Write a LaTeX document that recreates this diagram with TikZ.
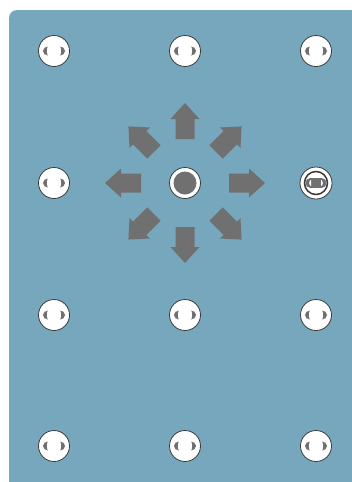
\documentclass[tikz,border=0pt]{standalone}
\usepackage{xcolor}
\definecolor{colPanel}{HTML}{76A7BD}
\definecolor{colRim}{HTML}{3A3A3A}
\definecolor{colMark}{HTML}{707070}
\usepackage{tikz}
\usetikzlibrary{calc}
\tikzset{
    hole/.style={
        circle, draw=colRim, fill=white, line width=0.8pt,
        minimum size=31pt, inner sep=0pt,
        path picture={
            \fill[colMark] ([xshift=-6pt,yshift=4.5pt]path picture bounding box.center)
                arc[start angle=90, end angle=270, x radius=5pt, y radius=4.5pt]
                arc[start angle=-90, end angle=-270, x radius=1.2pt, y radius=4.5pt] -- cycle;
            \fill[colMark] ([xshift=6pt,yshift=4.5pt]path picture bounding box.center)
                arc[start angle=90, end angle=-90, x radius=5pt, y radius=4.5pt]
                arc[start angle=-90, end angle=90, x radius=1.2pt, y radius=4.5pt] -- cycle;
        }
    },
    activehole/.style={
        circle, draw=colRim, fill=white, line width=0.8pt,
        minimum size=32pt, inner sep=0pt,
        path picture={
            \draw[colRim, line width=1.5pt] (path picture bounding box.center) circle[radius=11.5pt];
            \fill[colMark, rounded corners=4.5pt]
                ([xshift=-10.5pt,yshift=-4.8pt]path picture bounding box.center) rectangle ++(21pt,9.6pt);
            \fill[white] ([xshift=-5pt,yshift=3pt]path picture bounding box.center)
                arc[start angle=90, end angle=270, x radius=1.8pt, y radius=3pt] -- cycle;
            \fill[white] ([xshift=5pt,yshift=3pt]path picture bounding box.center)
                arc[start angle=90, end angle=-90, x radius=1.8pt, y radius=3pt] -- cycle;
        }
    },
    centerhole/.style={
        circle, draw=colRim, fill=white, line width=0.8pt,
        minimum size=31pt, inner sep=0pt,
        path picture={
            \fill[colMark] (path picture bounding box.center) circle[radius=11.5pt];
        }
    },
    movearrow/.style={fill=colMark},
}

\begin{document}
\begin{tikzpicture}[x=1pt, y=-1pt]
    \useasboundingbox (0,0) rectangle (352,482);
    \fill[colPanel, rounded corners=8pt] (9,10) rectangle (372,502);

    % grid of holes
    \foreach \r/\y in {1/51, 3/315, 4/446}
        \foreach \c/\x in {1/54, 2/185, 3/316}
            \node[hole] (hole-\r-\c) at (\x,\y) {};
    \node[hole] (hole-2-1) at (54,183) {};
    \node[centerhole] (ctr) at (185,183) {};
    \node[activehole] (hole-2-3) at (316,183) {};

    % move arrows round the centre
    \foreach \a in {0,45,...,315}
        \fill[movearrow, rotate around={\a:(ctr.center)}]
            ([shift={(-9.5,-44)}]ctr.center) -- ([shift={(-9.5,-64)}]ctr.center)
            -- ([shift={(-14.5,-64)}]ctr.center) -- ([shift={(0,-80)}]ctr.center)
            -- ([shift={(14.5,-64)}]ctr.center) -- ([shift={(9.5,-64)}]ctr.center)
            -- ([shift={(9.5,-44)}]ctr.center) -- cycle;
\end{tikzpicture}
\end{document}
